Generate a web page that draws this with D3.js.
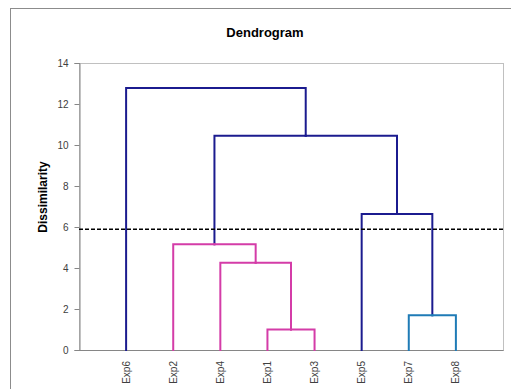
<!DOCTYPE html>
<html>
<head>
<meta charset="utf-8">
<script src="https://cdn.jsdelivr.net/npm/d3@7"></script>
<style>
  html, body { margin: 0; padding: 0; background: #fff; }
  svg { display: block; font-family: "Liberation Sans", Arial, sans-serif; }
</style>
</head>
<body>
<svg id="chart" width="511" height="389"></svg>
<script>
// Leaf order along the x axis
const leaves = ["Exp6", "Exp2", "Exp4", "Exp1", "Exp3", "Exp5", "Exp7", "Exp8"];

// Agglomeration steps: [node id, left child, right child, dissimilarity]
const merges = [
  ["C1", "Exp1", "Exp3", 1.00],
  ["C2", "Exp4", "C1", 4.26],
  ["C3", "Exp2", "C2", 5.16],
  ["C4", "Exp7", "Exp8", 1.69],
  ["C5", "Exp5", "C4", 6.64],
  ["C6", "C3", "C5", 10.45],
  ["C7", "Exp6", "C6", 12.78]
];

// Truncation level drawn as the dashed line
const cutLevel = 5.89;

// Y axis ticks
const yTicks = [0, 2, 4, 6, 8, 10, 12, 14];

// Colours of the clusters below the truncation level
const clusterColors = { C3: "#d43ca8", C4: "#1f7bb6" };
const baseColor = "#1b1b8f";

const svg = d3.select("#chart");
const plot = { left: 79, right: 503, top: 63, bottom: 350 };

// Outer chart frame
svg.append("rect")
  .attr("x", 10.5).attr("y", 8.5)
  .attr("width", 530).attr("height", 420)
  .attr("fill", "none").attr("stroke", "#8c8c8c").attr("stroke-width", 1);

const x = d3.scaleLinear().domain([0, leaves.length + 1]).range([plot.left, plot.right]);
const y = d3.scaleLinear().domain([0, 14]).range([plot.bottom, plot.top]);

// Build the hierarchy from the merge list
const byId = new Map();
leaves.forEach((name, i) => byId.set(name, { id: name, height: 0, order: i }));
merges.forEach(([id, a, b, h]) => byId.set(id, { id, height: h, children: [byId.get(a), byId.get(b)] }));
const root = d3.hierarchy(byId.get(merges[merges.length - 1][0]));

// Positions: leaves by order, internal nodes at the middle of their children
root.eachAfter(n => {
  n.px = n.children ? (n.children[0].px + n.children[1].px) / 2 : x(n.data.order + 1);
  n.py = y(n.data.height);
});

// Colour assignment: nodes inherit the colour of their cluster
root.eachBefore(n => {
  n.color = clusterColors[n.data.id] || (n.parent ? n.parent.color : baseColor);
});

// Plot area border
svg.append("rect")
  .attr("x", plot.left + 0.5).attr("y", plot.top + 0.5)
  .attr("width", plot.right - plot.left).attr("height", plot.bottom - plot.top)
  .attr("fill", "none").attr("stroke", "#c0c0c0");

// Y axis
const yAxis = svg.append("g")
  .attr("transform", `translate(${plot.left + 0.5},0)`)
  .call(d3.axisLeft(y).tickValues(yTicks).tickSize(5).tickPadding(6));
yAxis.select(".domain").attr("stroke", "#868686");
yAxis.selectAll(".tick line").attr("stroke", "#868686");
yAxis.selectAll(".tick text").attr("fill", "#404040").style("font-size", "10px");

// X axis line
svg.append("line")
  .attr("x1", plot.left).attr("x2", plot.right + 0.5)
  .attr("y1", plot.bottom + 0.5).attr("y2", plot.bottom + 0.5)
  .attr("stroke", "#868686");

// Dendrogram links (elbow shape: vertical from child, horizontal at parent)
const g = svg.append("g").attr("fill", "none").attr("stroke-width", 2);
root.descendants().filter(n => n.parent).forEach(n => {
  g.append("path")
    .attr("d", `M${n.px},${n.py}V${n.parent.py}H${n.parent.px}`)
    .attr("stroke", n.parent.color)
    .attr("stroke-linecap", "square");
});

// Truncation line
svg.append("line")
  .attr("x1", plot.left).attr("x2", plot.right)
  .attr("y1", y(cutLevel)).attr("y2", y(cutLevel))
  .attr("stroke", "#000").attr("stroke-width", 1.5)
  .attr("stroke-dasharray", "4,2");

// Leaf labels
svg.append("g").selectAll("text")
  .data(root.leaves())
  .join("text")
  .attr("transform", d => `translate(${d.px},361) rotate(-90)`)
  .attr("text-anchor", "end")
  .attr("dy", "0.35em")
  .attr("fill", "#404040")
  .style("font-size", "10px")
  .text(d => d.data.id);

// Title
svg.append("text")
  .attr("x", 265).attr("y", 37)
  .attr("text-anchor", "middle")
  .style("font-size", "13px").style("font-weight", "bold")
  .attr("fill", "#000")
  .text("Dendrogram");

// Y axis title
svg.append("text")
  .attr("transform", "translate(47,197) rotate(-90)")
  .attr("text-anchor", "middle")
  .style("font-size", "12px").style("font-weight", "bold")
  .attr("fill", "#000")
  .text("Dissimilarity");
</script>
</body>
</html>
